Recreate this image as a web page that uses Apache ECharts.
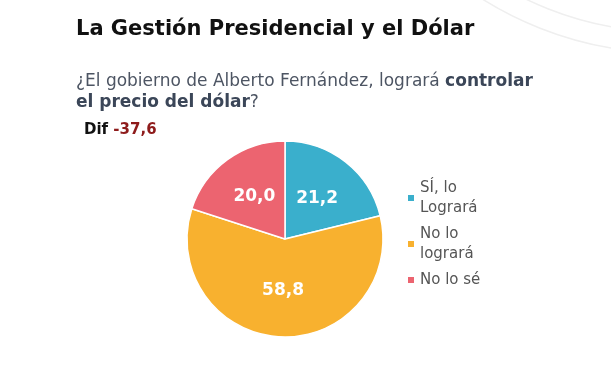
<!DOCTYPE html>
<html><head><meta charset="utf-8">
<script src="https://cdn.jsdelivr.net/npm/echarts@6/dist/echarts.min.js"></script>
<style>html,body{margin:0;padding:0;background:#fff}#c{width:611px;height:373px}</style>
</head><body><div id="c"></div>
<script>
const categories = ["SÍ, lo\nLogrará", "No lo\nlogrará", "No lo sé"];
const values = [21.2, 58.8, 20.0];
const colors = ["#3aafcc", "#f8b12f", "#ec6470"];
const difValue = "-37,6";

const chart = echarts.init(document.getElementById('c'));
const FF = '"DejaVu Sans", sans-serif';
chart.setOption({
  backgroundColor: '#fff',
  animation: false,
  graphic: [
    {type:'circle', shape:{cx:670, cy:-300, r:332}, style:{fill:'none', stroke:'#efefef', lineWidth:1.5}},
    {type:'circle', shape:{cx:670, cy:-300, r:353}, style:{fill:'none', stroke:'#efefef', lineWidth:1.5}}
  ],
  title: [
    {text: 'La Gestión Presidencial y el Dólar', left: 71, top: 14,
     textStyle: {fontFamily: FF, fontSize: 21, fontWeight: 'bold', color: '#111'}},
    {text: '{n|¿El gobierno de Alberto Fernández, logrará }{b|controlar}\n{b|el precio del dólar}{n|?}',
     left: 71, top: 66,
     textStyle: {fontWeight: 'normal', rich: {
       n: {fontFamily: FF, fontSize: 17, fontWeight: 'normal', color: '#4d5563', lineHeight: 21},
       b: {fontFamily: FF, fontSize: 17, fontWeight: 'bold', color: '#3b4658', lineHeight: 21}
     }}},
    {text: '{a|Dif }{r|' + difValue + '}', left: 79, top: 118,
     textStyle: {rich: {
       a: {fontFamily: FF, fontSize: 15, fontWeight: 'bold', color: '#111'},
       r: {fontFamily: FF, fontSize: 15, fontWeight: 'bold', color: '#8e1b1b'}
     }}}
  ],
  legend: {
    orient: 'vertical', left: 401, top: 173,
    itemWidth: 8, itemHeight: 8, itemGap: 6, icon: 'rect',
    textStyle: {fontFamily: FF, fontSize: 15, color: '#555', lineHeight: 20},
    data: categories
  },
  series: [{
    type: 'pie', center: [285, 239], radius: [0, 98], startAngle: 90, clockwise: true,
    itemStyle: {borderColor: '#fff', borderWidth: 1.5},
    label: {show: true, position: 'inside', fontFamily: FF, fontSize: 17, fontWeight: 'bold', color: '#fff',
            formatter: p => p.value.toFixed(1).replace('.', ',')},
    labelLine: {show: false},
    emphasis: {disabled: true},
    data: categories.map((c, i) => ({name: c, value: values[i], itemStyle: {color: colors[i]}}))
  }]
});
</script></body></html>
